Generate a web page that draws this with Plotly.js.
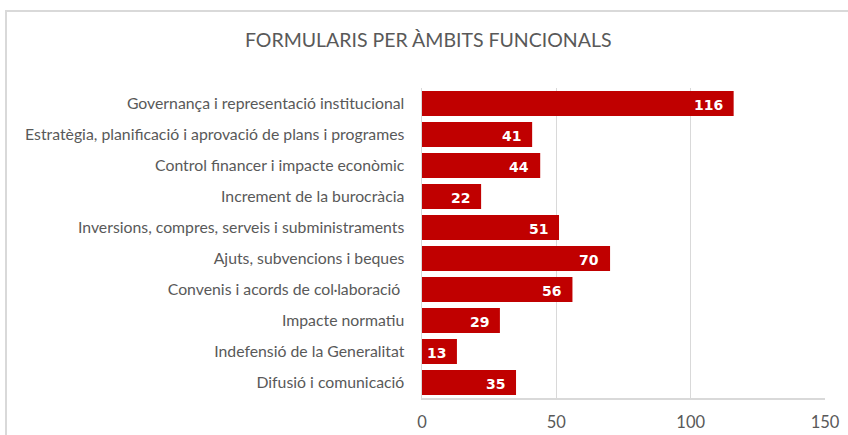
<!DOCTYPE html>
<html>
<head>
<meta charset="utf-8">
<script src="https://cdn.plot.ly/plotly-3.0.1.min.js"></script>
<style>
  body { margin: 0; padding: 0; background: #fff; }
  #chart { position: absolute; left: 0; top: 0; width: 848px; height: 435px; }
  #frame { position: absolute; left: 5px; top: 10px; width: 860px; height: 440px;
           border-left: 2px solid #d9d9d9; border-top: 2px solid #d9d9d9; pointer-events: none; }
</style>
</head>
<body>
<div id="chart"></div>
<div id="frame"></div>
<script>
// ambits funcionals, de dalt a baix
var categories = [
  'Governança i representació institucional',
  'Estratègia, planificació i aprovació de plans i programes',
  'Control financer i impacte econòmic',
  'Increment de la burocràcia',
  'Inversions, compres, serveis i subministraments',
  'Ajuts, subvencions i beques',
  'Convenis i acords de col·laboració ',
  'Impacte normatiu',
  'Indefensió de la Generalitat',
  'Difusió i comunicació'
];
var formularis = [116, 41, 44, 22, 51, 70, 56, 29, 13, 35];
var xTicks = [0, 50, 100, 150];

var grey = '#595959';

var trace1 = {
  x: formularis,
  y: categories,
  type: 'bar',
  orientation: 'h',
  marker: { color: '#C00000' },
  hoverinfo: 'none'
};

// etiquetes de valor dins la barra, a prop del final
var labels = formularis.map(function (v, i) {
  return {
    x: v,
    y: categories[i],
    text: String(v),
    xanchor: 'right',
    xshift: -9,
    yshift: -1,
    showarrow: false,
    font: { family: 'DejaVu Sans', size: 14, color: '#ffffff', weight: 'bold' }
  };
});

var layout = {
  width: 848,
  height: 435,
  margin: { l: 422, r: 23, t: 88, b: 37 },
  paper_bgcolor: '#ffffff',
  plot_bgcolor: '#ffffff',
  showlegend: false,
  bargap: 0.2,
  title: {
    text: 'FORMULARIS PER ÀMBITS FUNCIONALS',
    font: { family: 'Lato', size: 19.5, color: grey },
    x: 0.505,
    xref: 'container',
    xanchor: 'center',
    y: 0.908,
    yref: 'container',
    yanchor: 'middle'
  },
  xaxis: {
    range: [0, 150],
    tickvals: xTicks,
    showgrid: true,
    gridcolor: '#d9d9d9',
    gridwidth: 1.5,
    zeroline: false,
    showline: true,
    linecolor: '#d9d9d9',
    linewidth: 1.5,
    ticks: '',
    ticklabelstandoff: 9,
    tickfont: { family: 'Lato', size: 16.5, color: grey },
    fixedrange: true
  },
  yaxis: {
    autorange: 'reversed',
    showgrid: false,
    zeroline: false,
    showline: true,
    linecolor: '#d9d9d9',
    linewidth: 1.5,
    ticks: '',
    ticklabelstandoff: 13,
    tickfont: { family: 'Lato', size: 15.8, color: grey },
    fixedrange: true
  },
  annotations: labels
};

Plotly.newPlot('chart', [trace1], layout, { displayModeBar: false, staticPlot: true });
</script>
</body>
</html>
